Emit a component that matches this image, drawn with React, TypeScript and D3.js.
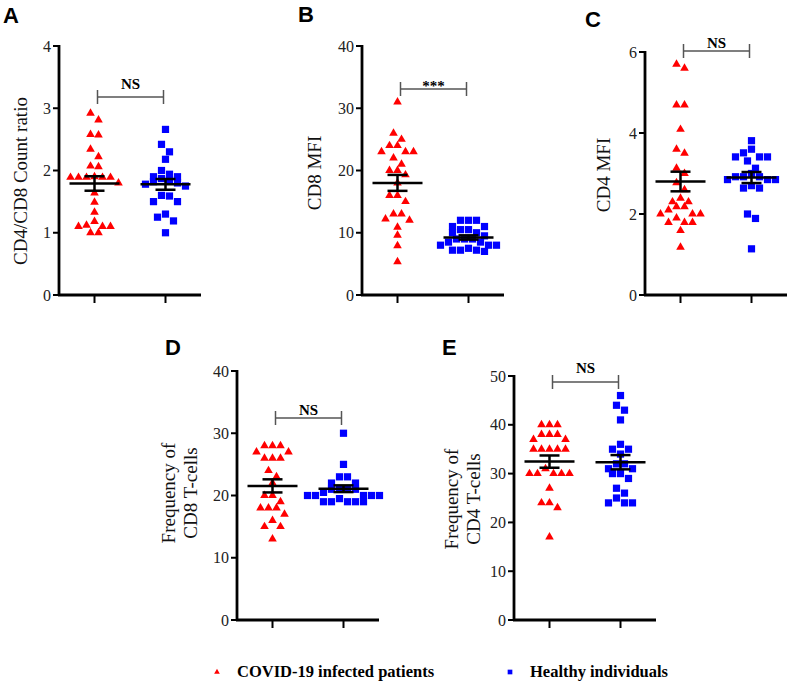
import * as React from 'react';
import * as d3 from 'd3';

// values
const covidRatio = [2.92, 2.81, 2.57, 2.58, 2.34, 2.22, 2.06, 2.07, 1.90, 1.89, 1.89, 1.89, 1.89, 1.89, 1.80, 1.64, 1.49, 1.33, 1.18, 1.10, 1.10, 1.10, 1.12, 1.0, 1.0];
const healthyRatio = [2.66, 2.42, 2.30, 2.18, 2.0, 1.94, 1.90, 1.90, 1.87, 1.82, 1.85, 1.80, 1.78, 1.75, 1.59, 1.60, 1.50, 1.50, 1.30, 1.25, 1.19, 1.00];

const covidCd8Mfi = [31, 26, 25, 24, 24, 23, 23, 23, 22, 21, 20, 20, 19.3, 18, 16, 16, 15, 13, 13, 12.2, 12, 10.9, 9.6, 7.9, 5.35];
const healthyCd8Mfi = [12, 12, 12, 11, 11, 10.5, 10.5, 10, 10, 9.5, 9, 9, 9, 8.5, 8.5, 8, 8, 8, 7.5, 7.2, 7.2, 7.2, 7.0];

const covidCd4Mfi = [5.7, 5.6, 4.69, 4.69, 4.09, 3.6, 3.5, 3.13, 3.0, 2.77, 2.6, 2.39, 2.30, 2.30, 2.18, 2.18, 2.1, 2.0, 2.0, 2.0, 1.9, 1.79, 1.79, 1.79, 1.59, 1.18];
const healthyCd4Mfi = [3.81, 3.6, 3.51, 3.41, 3.41, 3.41, 3.31, 3.13, 3.0, 2.92, 2.92, 2.92, 2.85, 2.85, 2.85, 2.7, 2.64, 2.64, 2.0, 1.89, 1.14];

const covidCd8Freq = [28, 28, 28, 27, 27, 26, 26, 26, 24, 23, 22, 20, 20, 19, 18, 18, 18, 17, 16, 15, 15, 13];
const healthyCd8Freq = [30, 25, 23, 23, 22, 22, 21, 21, 21, 21, 20.5, 20, 20, 20, 20, 20, 19.5, 19, 19, 19, 19, 19];

const covidCd4Freq = [40, 40, 40, 38, 38, 38, 37, 37, 35, 35, 35, 35, 35, 31, 30, 30, 30, 30, 30, 27, 24, 24, 23, 17];
const healthyCd4Freq = [46, 44, 43, 41, 36, 35, 35, 34, 32, 32, 31, 30, 30, 31, 29, 27, 26, 25, 24, 24, 24];

const groups = ['COVID-19 infected patients', 'Healthy individuals'];

const SERIF = '"Liberation Serif", "Times New Roman", serif';
const SANS = '"Liberation Sans", Arial, sans-serif';

interface Panel {
    letter: string;
    covid: number[];
    healthy: number[];
    yMax: number;
    yStep: number;
    label: string[];
    sig: string;
    // layout
    letterX: number; letterY: number;
    left: number; top: number; bottom: number;
    labelX: number[]; labelY: number;
    bracketY: number; sigY: number;
}

const panels: Panel[] = [
    { letter: 'A', covid: covidRatio, healthy: healthyRatio, yMax: 4, yStep: 1, label: ['CD4/CD8 Count ratio'], sig: 'NS',
      letterX: 3, letterY: 23, left: 59, top: 46, bottom: 295, labelX: [27], labelY: 181, bracketY: 97, sigY: 89 },
    { letter: 'B', covid: covidCd8Mfi, healthy: healthyCd8Mfi, yMax: 40, yStep: 10, label: ['CD8 MFI'], sig: '***',
      letterX: 298, letterY: 22, left: 362, top: 46, bottom: 295, labelX: [321], labelY: 173, bracketY: 89, sigY: 91 },
    { letter: 'C', covid: covidCd4Mfi, healthy: healthyCd4Mfi, yMax: 6, yStep: 2, label: ['CD4 MFI'], sig: 'NS',
      letterX: 585, letterY: 27, left: 645, top: 52, bottom: 295, labelX: [610], labelY: 175, bracketY: 51, sigY: 48 },
    { letter: 'D', covid: covidCd8Freq, healthy: healthyCd8Freq, yMax: 40, yStep: 10, label: ['Frequency of', 'CD8 T-cells'], sig: 'NS',
      letterX: 165, letterY: 355, left: 237, top: 371, bottom: 620, labelX: [175, 197], labelY: 493, bracketY: 418, sigY: 415 },
    { letter: 'E', covid: covidCd4Freq, healthy: healthyCd4Freq, yMax: 50, yStep: 10, label: ['Frequency of', 'CD4 T-cells'], sig: 'NS',
      letterX: 442, letterY: 355, left: 514, top: 376, bottom: 620, labelX: [458, 480], labelY: 499, bracketY: 382, sigY: 373 },
];

const MARK = 8;
const triangle = d3.symbol().type(d3.symbolTriangle).size(32)() as string;
const square = d3.symbol().type(d3.symbolSquare).size(52)() as string;

// GraphPad-like column scatter: points within one marker height share a row
function swarm(values: number[], y: (v: number) => number) {
    const pts = values.map(v => ({ v, py: y(v) })).sort((a, b) => a.py - b.py);
    const out: { v: number; py: number; dx: number }[] = [];
    let row: { v: number; py: number }[] = [];
    const flush = () => {
        const n = row.length;
        const slots = d3.range(n).map(i => (i - (n - 1) / 2) * MARK)
            .sort((a, b) => Math.abs(a) - Math.abs(b) || a - b);
        row.forEach((p, i) => out.push({ ...p, dx: slots[i] }));
        row = [];
    };
    for (const p of pts) {
        if (row.length && p.py - row[0].py >= MARK) flush();
        row.push(p);
    }
    flush();
    return out;
}

function sem(values: number[]) {
    return (d3.deviation(values) || 0) / Math.sqrt(values.length);
}

function PanelView({ p }: { p: Panel }) {
    const y = d3.scaleLinear().domain([0, p.yMax]).range([p.bottom, p.top]);
    const x = d3.scalePoint<string>().domain(groups).range([p.left, p.left + 142]).padding(0.5);
    const ticks = d3.range(0, p.yMax + p.yStep / 2, p.yStep);
    const series = [
        { key: groups[0], values: p.covid, color: '#ff0000', path: triangle },
        { key: groups[1], values: p.healthy, color: '#0000ff', path: square },
    ];
    const bx1 = (x(groups[0]) as number) + 3;
    const bx2 = (x(groups[1]) as number) - 2;

    return (
        <g>
            <text x={p.letterX} y={p.letterY} fontFamily={SANS} fontWeight="bold" fontSize={22}>{p.letter}</text>
            {p.label.map((l, i) => (
                <text key={l} transform={`translate(${p.labelX[i]},${p.labelY}) rotate(-90)`} textAnchor="middle"
                    fontFamily={SERIF} fontSize={19} fill="#111">{l}</text>
            ))}
            {ticks.map(t => (
                <g key={t}>
                    <line x1={p.left - 6} x2={p.left} y1={y(t)} y2={y(t)} stroke="#000" strokeWidth={2} />
                    <text x={p.left - 8} y={y(t)} dy="0.35em" textAnchor="end" fontFamily={SERIF} fontSize={16} fill="#222">{t}</text>
                </g>
            ))}
            {groups.map(g => (
                <line key={g} x1={x(g)} x2={x(g)} y1={p.bottom} y2={p.bottom + 8} stroke="#000" strokeWidth={2} />
            ))}
            <line x1={p.left} x2={p.left} y1={p.top - 1} y2={p.bottom + 1} stroke="#000" strokeWidth={2.8} />
            <line x1={p.left - 1} x2={p.left + 142} y1={p.bottom} y2={p.bottom} stroke="#000" strokeWidth={2.8} />

            {series.map(s => {
                const cx = x(s.key) as number;
                const m = d3.mean(s.values) as number;
                const e = sem(s.values);
                return (
                    <g key={s.key}>
                        {swarm(s.values, y).map((d, i) => (
                            <path key={i} d={s.path} transform={`translate(${cx + d.dx},${d.py})`} fill={s.color} />
                        ))}
                        <line x1={cx - 25} x2={cx + 25} y1={y(m)} y2={y(m)} stroke="#000" strokeWidth={2.5} />
                        <line x1={cx} x2={cx} y1={y(m - e)} y2={y(m + e)} stroke="#000" strokeWidth={2.5} />
                        <line x1={cx - 10} x2={cx + 10} y1={y(m + e)} y2={y(m + e)} stroke="#000" strokeWidth={2.5} />
                        <line x1={cx - 10} x2={cx + 10} y1={y(m - e)} y2={y(m - e)} stroke="#000" strokeWidth={2.5} />
                    </g>
                );
            })}

            <g stroke="#555" strokeWidth={1.5}>
                <line x1={bx1} x2={bx2} y1={p.bracketY} y2={p.bracketY} />
                <line x1={bx1} x2={bx1} y1={p.bracketY - 7} y2={p.bracketY + 7} />
                <line x1={bx2} x2={bx2} y1={p.bracketY - 7} y2={p.bracketY + 7} />
            </g>
            <text x={(bx1 + bx2) / 2} y={p.sigY} textAnchor="middle" fontFamily={SERIF} fontWeight="bold" fontSize={15}>{p.sig}</text>
        </g>
    );
}

export default function App() {
    const tri = d3.symbol().type(d3.symbolTriangle).size(14)() as string;
    const sq = d3.symbol().type(d3.symbolSquare).size(22)() as string;
    return (
        <svg width={790} height={683} style={{ position: 'absolute', left: 0, top: 0, background: '#fff' }}>
            <rect width={790} height={683} fill="#fff" />
            {panels.map(p => <PanelView key={p.letter} p={p} />)}
            <path d={tri} transform="translate(217,672)" fill="#ff0000" />
            <text x={237} y={677} fontFamily={SERIF} fontWeight="bold" fontSize={16.5}>{groups[0]}</text>
            <path d={sq} transform="translate(510,672)" fill="#0000ff" />
            <text x={530} y={677} fontFamily={SERIF} fontWeight="bold" fontSize={16.5}>{groups[1]}</text>
        </svg>
    );
}
